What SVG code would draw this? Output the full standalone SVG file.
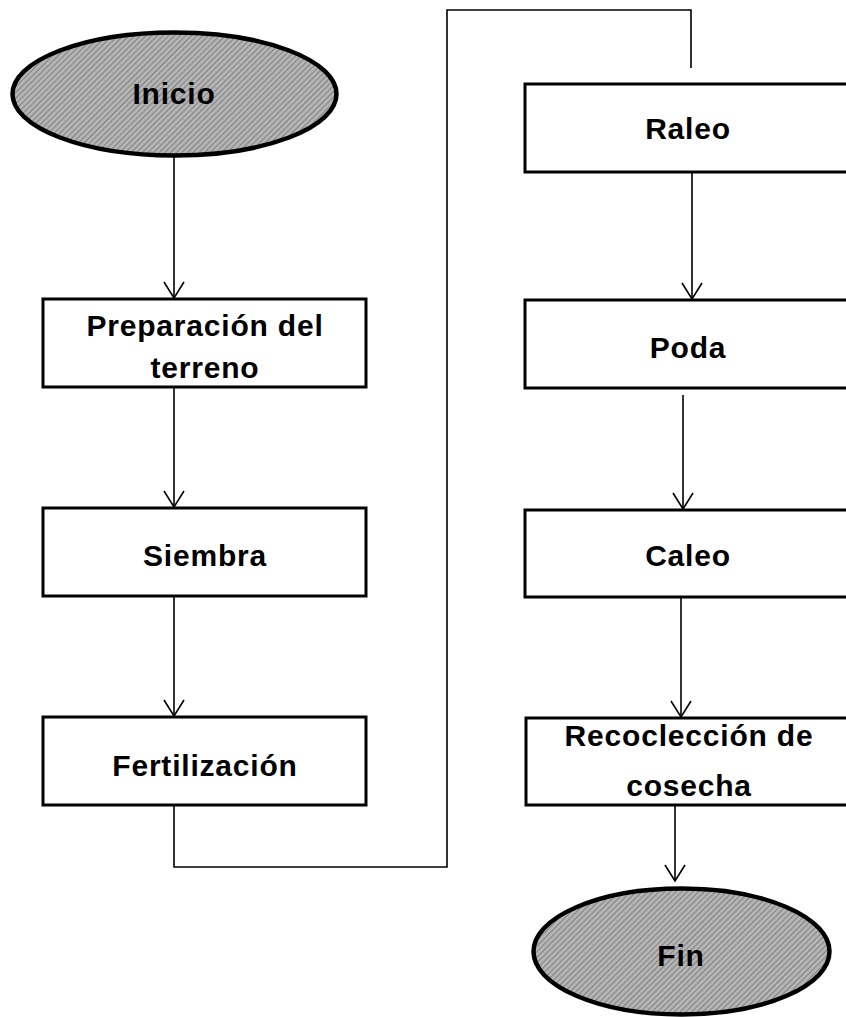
<svg xmlns="http://www.w3.org/2000/svg" width="846" height="1017" viewBox="0 0 846 1017">
<style>
.box{fill:#fff;stroke:#000;stroke-width:3}
.term{fill:url(#hatch);stroke:#000;stroke-width:4.5}
.lbl{font-family:"Liberation Sans",Arial,sans-serif;font-weight:bold;font-size:30px;fill:#000;text-anchor:middle;letter-spacing:0.8px}
.conn{fill:none;stroke:#000;stroke-width:1.6}
</style>
<defs>
<pattern id="hatch" patternUnits="userSpaceOnUse" width="4" height="4" patternTransform="rotate(45)">
<rect width="4" height="4" fill="#b4b4b4"/>
<line x1="0" y1="0" x2="0" y2="4" stroke="#707070" stroke-width="1.5"/>
</pattern>
<marker id="arr" markerUnits="userSpaceOnUse" markerWidth="24" markerHeight="26" refX="0" refY="0" viewBox="-20 -13 24 26" orient="auto" overflow="visible">
<path d="M-16,-10 L0,0 L-16,10" fill="none" stroke="#000" stroke-width="1.6"/>
</marker>
</defs>
<g id="connectors">
<path class="conn" d="M174,157 V298" marker-end="url(#arr)"/>
<path class="conn" d="M174,387 V507" marker-end="url(#arr)"/>
<path class="conn" d="M174,596 V716" marker-end="url(#arr)"/>
<path class="conn" d="M174,805 V867 H447 V10 H691 V68"/>
<path class="conn" d="M692,172 V299" marker-end="url(#arr)"/>
<path class="conn" d="M683,395 V509" marker-end="url(#arr)"/>
<path class="conn" d="M681,597 V717" marker-end="url(#arr)"/>
<path class="conn" d="M675,805 V881" marker-end="url(#arr)"/>
</g>
<g id="inicio">
<ellipse class="term" cx="174.5" cy="94" rx="162" ry="61.5"/>
<text class="lbl" x="174" y="104">Inicio</text>
</g>
<g id="preparacion">
<rect class="box" x="43" y="299" width="323" height="88"/>
<text class="lbl" x="205" y="336">Preparación del</text>
<text class="lbl" x="205" y="378">terreno</text>
</g>
<g id="siembra">
<rect class="box" x="43" y="508" width="323" height="88"/>
<text class="lbl" x="205" y="566">Siembra</text>
</g>
<g id="fertilizacion">
<rect class="box" x="43" y="717" width="323" height="88"/>
<text class="lbl" x="205" y="776">Fertilización</text>
</g>
<g id="raleo">
<rect class="box" x="525" y="84" width="326" height="88"/>
<text class="lbl" x="688" y="139">Raleo</text>
</g>
<g id="poda">
<rect class="box" x="525" y="300" width="326" height="88"/>
<text class="lbl" x="688" y="358">Poda</text>
</g>
<g id="caleo">
<rect class="box" x="525" y="510" width="326" height="87"/>
<text class="lbl" x="688" y="566">Caleo</text>
</g>
<g id="recoleccion">
<rect class="box" x="526" y="718" width="326" height="87"/>
<text class="lbl" x="689" y="746">Recoclección de</text>
<text class="lbl" x="689" y="796">cosecha</text>
</g>
<g id="fin">
<ellipse class="term" cx="681.5" cy="951.5" rx="148" ry="63"/>
<text class="lbl" x="681" y="966">Fin</text>
</g>
</svg>
